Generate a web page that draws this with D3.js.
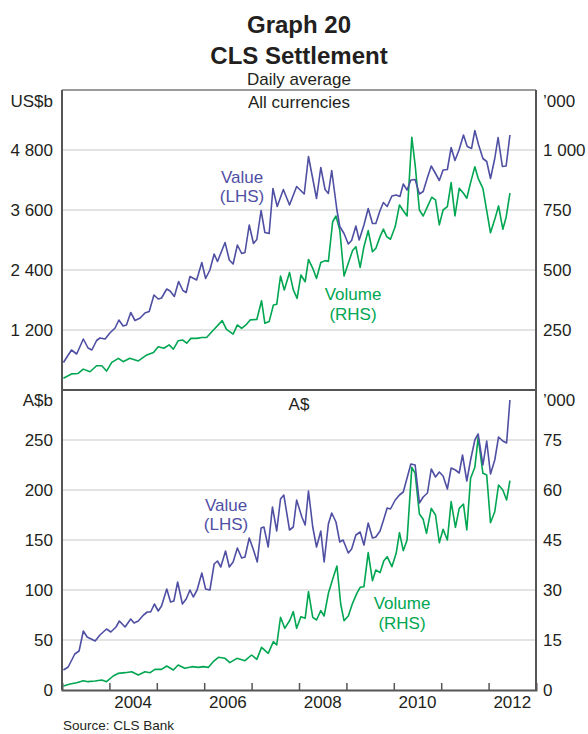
<!DOCTYPE html>
<html lang="en">
  <head>
    <meta charset="utf-8" />
    <title>CLS Settlement</title>
    <style>
      body { margin: 0; background: #fff; }
      svg text { font-family: "Liberation Sans", Arial, sans-serif; fill: #231f20; }
      .grid line { stroke: #c8c8c8; stroke-width: 1px; }
    </style>
  </head>
  <body>
    <div id="vis"></div>
    <script src="https://cdn.jsdelivr.net/npm/d3@7/dist/d3.min.js"></script>
    <script>
      // monthly observations, [decimal year, value]
      const usValue = [[2003.03,550],[2003.20,800],[2003.31,720],[2003.45,1020],[2003.55,840],[2003.63,800],[2003.73,990],[2003.80,1040],[2003.91,1020],[2004.01,1140],[2004.12,1240],[2004.20,1400],[2004.29,1280],[2004.36,1300],[2004.45,1550],[2004.54,1390],[2004.65,1440],[2004.75,1540],[2004.84,1570],[2004.94,1900],[2005.03,1820],[2005.10,1840],[2005.21,2020],[2005.28,1980],[2005.37,1870],[2005.46,2170],[2005.55,1990],[2005.62,1950],[2005.70,2270],[2005.84,2200],[2005.95,2550],[2006.03,2230],[2006.12,2400],[2006.21,2720],[2006.28,2570],[2006.44,2950],[2006.53,2600],[2006.61,2520],[2006.70,2900],[2006.79,2730],[2006.86,2750],[2006.95,3300],[2007.04,2930],[2007.11,3010],[2007.20,3590],[2007.28,3150],[2007.37,3130],[2007.45,4030],[2007.54,3670],[2007.67,4010],[2007.80,3700],[2007.95,4070],[2008.11,3920],[2008.20,4670],[2008.37,3830],[2008.46,4450],[2008.55,4010],[2008.62,3930],[2008.69,4390],[2008.80,3600],[2008.86,3270],[2008.95,3130],[2009.04,2920],[2009.11,2990],[2009.20,3280],[2009.27,3000],[2009.37,3300],[2009.46,3630],[2009.55,3330],[2009.62,3330],[2009.71,3590],[2009.78,3750],[2009.86,3670],[2009.96,3880],[2010.05,3900],[2010.13,3870],[2010.20,4120],[2010.28,4000],[2010.36,4200],[2010.45,4210],[2010.54,3920],[2010.62,3970],[2010.71,4250],[2010.79,4480],[2010.88,4330],[2010.96,4190],[2011.04,4400],[2011.13,4410],[2011.21,4850],[2011.29,4590],[2011.38,4810],[2011.47,5100],[2011.55,4870],[2011.64,4830],[2011.71,5190],[2011.79,4900],[2011.88,4630],[2011.96,4570],[2012.04,4230],[2012.13,4630],[2012.20,5050],[2012.29,4470],[2012.37,4480],[2012.45,5100]];
      const usVolume = [[2003.03,49],[2003.20,67],[2003.34,69],[2003.45,87],[2003.59,76],[2003.73,101],[2003.84,101],[2003.94,79],[2004.05,115],[2004.19,132],[2004.29,118],[2004.43,132],[2004.61,121],[2004.79,146],[2004.93,156],[2005.03,180],[2005.15,174],[2005.26,188],[2005.35,170],[2005.45,205],[2005.55,208],[2005.63,195],[2005.72,215],[2005.84,215],[2005.95,219],[2006.05,219],[2006.21,253],[2006.38,289],[2006.47,253],[2006.61,233],[2006.70,271],[2006.79,257],[2006.88,271],[2006.97,292],[2007.11,294],[2007.21,372],[2007.28,278],[2007.37,285],[2007.46,354],[2007.53,357],[2007.61,475],[2007.69,417],[2007.80,490],[2007.88,417],[2007.96,382],[2008.04,479],[2008.13,451],[2008.20,544],[2008.29,507],[2008.37,465],[2008.46,531],[2008.55,539],[2008.62,536],[2008.71,701],[2008.78,725],[2008.86,667],[2008.95,475],[2009.04,528],[2009.13,581],[2009.20,597],[2009.29,511],[2009.37,597],[2009.46,664],[2009.55,576],[2009.62,590],[2009.71,639],[2009.78,670],[2009.85,639],[2009.93,628],[2010.03,681],[2010.12,771],[2010.20,747],[2010.28,725],[2010.38,1053],[2010.45,938],[2010.54,750],[2010.62,725],[2010.71,764],[2010.80,803],[2010.88,792],[2010.96,688],[2011.04,750],[2011.13,764],[2011.21,864],[2011.29,725],[2011.38,840],[2011.47,820],[2011.54,799],[2011.62,864],[2011.71,930],[2011.78,882],[2011.88,840],[2011.96,747],[2012.04,655],[2012.13,711],[2012.21,767],[2012.30,670],[2012.37,720],[2012.45,820]];
      const audValue = [[2003.03,20],[2003.13,23],[2003.27,36],[2003.36,39],[2003.45,59],[2003.53,53],[2003.70,49],[2003.80,55],[2003.94,61],[2004.03,58],[2004.14,63],[2004.21,69],[2004.33,63],[2004.45,71],[2004.52,67],[2004.61,69],[2004.72,75],[2004.80,78],[2004.87,78],[2004.95,86],[2005.03,79],[2005.10,84],[2005.21,101],[2005.29,88],[2005.36,89],[2005.44,108],[2005.54,86],[2005.62,91],[2005.70,100],[2005.77,93],[2005.85,100],[2005.95,117],[2006.03,101],[2006.12,100],[2006.21,126],[2006.28,129],[2006.35,123],[2006.45,139],[2006.53,123],[2006.61,128],[2006.70,142],[2006.79,132],[2006.86,133],[2006.95,152],[2007.04,140],[2007.12,128],[2007.20,162],[2007.26,163],[2007.35,143],[2007.44,183],[2007.53,159],[2007.61,191],[2007.68,195],[2007.80,160],[2007.88,163],[2007.95,190],[2008.06,173],[2008.13,165],[2008.20,199],[2008.29,163],[2008.37,143],[2008.46,159],[2008.53,128],[2008.62,166],[2008.69,177],[2008.78,168],[2008.86,148],[2008.93,150],[2009.04,137],[2009.11,141],[2009.20,155],[2009.29,158],[2009.37,145],[2009.46,167],[2009.55,152],[2009.62,153],[2009.71,159],[2009.79,171],[2009.86,182],[2009.93,181],[2010.03,190],[2010.12,195],[2010.20,198],[2010.28,212],[2010.36,226],[2010.45,225],[2010.54,187],[2010.62,193],[2010.71,197],[2010.79,221],[2010.88,213],[2010.96,218],[2011.04,214],[2011.13,201],[2011.21,222],[2011.30,220],[2011.38,217],[2011.45,235],[2011.54,209],[2011.62,230],[2011.71,250],[2011.78,256],[2011.88,225],[2011.96,249],[2012.04,216],[2012.13,230],[2012.21,253],[2012.30,249],[2012.38,247],[2012.45,290]];
      const audVolume = [[2003.03,1.2],[2003.17,1.8],[2003.31,2.2],[2003.45,2.8],[2003.55,2.5],[2003.70,2.7],[2003.84,3.0],[2003.94,2.5],[2004.08,4.2],[2004.19,5.0],[2004.33,5.2],[2004.47,5.5],[2004.61,4.5],[2004.75,5.5],[2004.86,5.2],[2004.96,6.2],[2005.10,6.2],[2005.21,7.2],[2005.35,6.0],[2005.45,7.5],[2005.59,6.5],[2005.74,7.0],[2005.88,6.8],[2005.98,7.0],[2006.09,6.8],[2006.19,8.5],[2006.30,9.8],[2006.44,9.5],[2006.54,8.2],[2006.69,9.5],[2006.86,8.8],[2007.00,10.5],[2007.11,9.2],[2007.21,12.8],[2007.35,11.0],[2007.46,14.5],[2007.53,13.5],[2007.61,21.8],[2007.70,18.5],[2007.81,21.0],[2007.88,23.5],[2007.95,18.5],[2008.04,22.0],[2008.13,21.5],[2008.20,29.5],[2008.29,21.8],[2008.37,21.0],[2008.46,23.8],[2008.53,22.2],[2008.62,29.0],[2008.71,33.2],[2008.80,37.2],[2008.88,25.8],[2008.95,20.8],[2009.04,22.2],[2009.13,26.0],[2009.22,29.0],[2009.29,30.8],[2009.37,31.0],[2009.46,41.2],[2009.55,32.8],[2009.62,36.0],[2009.71,35.2],[2009.79,38.8],[2009.86,40.0],[2009.96,37.0],[2010.05,41.0],[2010.12,47.2],[2010.20,41.8],[2010.28,45.0],[2010.38,66.8],[2010.45,65.0],[2010.54,52.8],[2010.62,51.2],[2010.69,47.0],[2010.79,54.5],[2010.88,52.5],[2010.96,44.2],[2011.04,48.2],[2011.13,45.0],[2011.21,56.5],[2011.30,48.8],[2011.38,54.5],[2011.47,55.8],[2011.54,48.0],[2011.62,63.5],[2011.71,66.8],[2011.78,75.8],[2011.88,65.0],[2011.96,64.5],[2012.04,50.2],[2012.13,53.5],[2012.21,61.5],[2012.30,60.0],[2012.38,57.0],[2012.45,62.8]];

      const years = [2004, 2005, 2006, 2007, 2008, 2009, 2010, 2011, 2012];
      const yearLabels = [2004, 2006, 2008, 2010, 2012];
      const usLeftTicks = [1200, 2400, 3600, 4800];
      const usRightTicks = [250, 500, 750, 1000];
      const audLeftTicks = [0, 50, 100, 150, 200, 250];
      const audRightTicks = [0, 15, 30, 45, 60, 75];

      const blue = "#4f4fa3";
      const green = "#00a651";
      const W = 588, H = 734;
      const left = 62, right = 536;
      const top1 = 90, mid = 390, bottom2 = 690;

      const fmt = d => d3.format(",")(d).replace(/,/g, " ");

      const svg = d3.select("#vis").append("svg").attr("width", W).attr("height", H);

      const x = d3.scaleLinear().domain([2003, 2013]).range([left, right]);
      const yUsL = d3.scaleLinear().domain([0, 6000]).range([mid, top1]);
      const yUsR = d3.scaleLinear().domain([0, 1250]).range([mid, top1]);
      const yAuL = d3.scaleLinear().domain([0, 300]).range([bottom2, mid]);
      const yAuR = d3.scaleLinear().domain([0, 90]).range([bottom2, mid]);

      // gridlines
      const grid = svg.append("g").attr("class", "grid");
      grid.selectAll(".g1").data(usLeftTicks).enter().append("line")
        .attr("x1", left).attr("x2", right)
        .attr("y1", d => yUsL(d)).attr("y2", d => yUsL(d));
      grid.selectAll(".g2").data(audLeftTicks.filter(d => d > 0)).enter().append("line")
        .attr("x1", left).attr("x2", right)
        .attr("y1", d => yAuL(d)).attr("y2", d => yAuL(d));

      // lines
      function drawLine(data, y, color) {
        svg.append("path").datum(data)
          .attr("fill", "none").attr("stroke", color).attr("stroke-width", 1.6)
          .attr("stroke-linejoin", "round")
          .attr("d", d3.line().x(d => x(d[0])).y(d => y(d[1])));
      }
      drawLine(usVolume, yUsR, green);
      drawLine(usValue, yUsL, blue);
      drawLine(audVolume, yAuR, green);
      drawLine(audValue, yAuL, blue);

      // frame
      svg.append("line").attr("x1", left).attr("x2", right).attr("y1", top1).attr("y2", top1)
        .attr("stroke", "#7a7a7a").attr("stroke-width", 1.5);
      svg.append("line").attr("x1", left).attr("x2", right).attr("y1", mid).attr("y2", mid)
        .attr("stroke", "#1a1a1a").attr("stroke-width", 1.5);
      svg.append("line").attr("x1", left).attr("x2", left).attr("y1", top1).attr("y2", bottom2)
        .attr("stroke", "#555").attr("stroke-width", 2);
      svg.append("line").attr("x1", right).attr("x2", right).attr("y1", top1).attr("y2", bottom2)
        .attr("stroke", "#555").attr("stroke-width", 2);

      // x axis with ticks inward
      const xAxis = d3.axisBottom(x).tickValues(years).tickSize(-7).tickFormat("");
      const gx = svg.append("g").attr("transform", `translate(0,${bottom2})`).call(xAxis);
      gx.select(".domain").attr("stroke", "#555").attr("stroke-width", 2);
      gx.selectAll(".tick line").attr("stroke", "#555").attr("stroke-width", 1.5);

      svg.selectAll(".yl").data(yearLabels).enter().append("text")
        .attr("x", d => x(d + 0.5)).attr("y", 702).attr("dy", "0.35em")
        .attr("text-anchor", "middle").style("font-size", "17px").text(d => d);

      // tick labels
      function tickLabels(ticks, y, xpos, anchor) {
        svg.append("g").selectAll("text").data(ticks).enter().append("text")
          .attr("x", xpos).attr("y", d => y(d)).attr("dy", "0.35em")
          .attr("text-anchor", anchor).style("font-size", "17px").text(fmt);
      }
      tickLabels(usLeftTicks, yUsL, 53, "end");
      tickLabels(usRightTicks, yUsR, 543, "start");
      tickLabels(audLeftTicks, yAuL, 53, "end");
      tickLabels(audRightTicks, yAuR, 543, "start");

      function label(t, px, py, opts = {}) {
        return svg.append("text").attr("x", px).attr("y", py).attr("dy", "0.35em")
          .attr("text-anchor", opts.anchor || "middle")
          .style("font-size", (opts.size || 17) + "px")
          .style("font-weight", opts.bold ? "bold" : "normal")
          .style("fill", opts.color || "#231f20")
          .text(t);
      }

      label("US$b", 53, 101, { anchor: "end" });
      label("\u2019000", 543, 101, { anchor: "start" });
      label("A$b", 53, 400, { anchor: "end" });
      label("\u2019000", 543, 400, { anchor: "start" });

      label("Graph 20", 299, 25, { bold: true, size: 24 });
      label("CLS Settlement", 299, 56, { bold: true, size: 24 });
      label("Daily average", 299, 79);
      label("All currencies", 299, 102);
      label("A$", 299, 404);

      label("Value", 242, 177, { color: blue });
      label("(LHS)", 242, 196, { color: blue });
      label("Volume", 353, 294, { color: green });
      label("(RHS)", 353, 314, { color: green });
      label("Value", 226, 505, { color: blue });
      label("(LHS)", 226, 524, { color: blue });
      label("Volume", 402, 603, { color: green });
      label("(RHS)", 402, 623, { color: green });

      label("Source: CLS Bank", 63, 725, { anchor: "start", size: 13.5 });
    </script>
  </body>
</html>
